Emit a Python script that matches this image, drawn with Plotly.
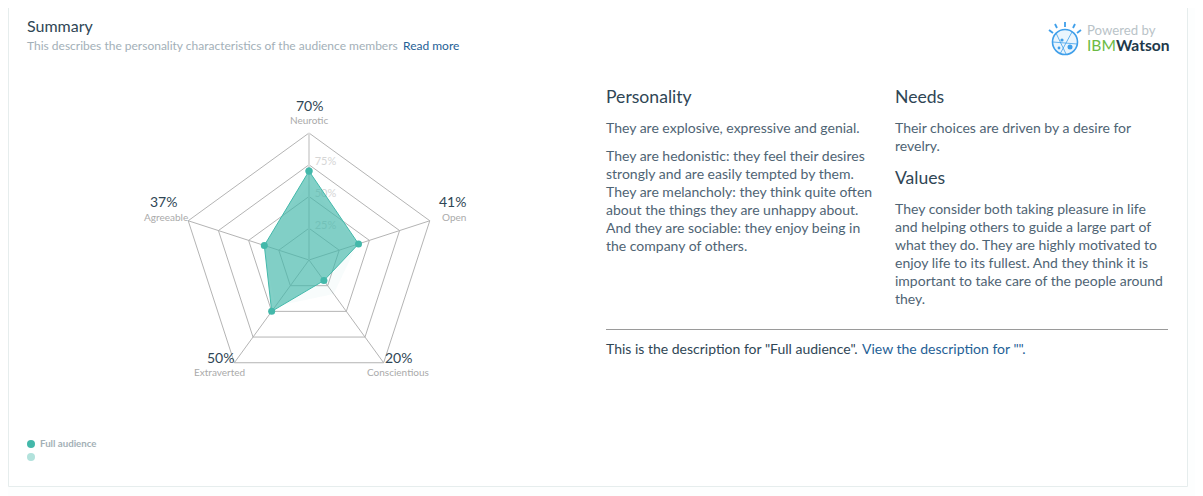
import plotly.graph_objects as go

W, H = 1203, 496
OFF = 8  # page margin around the figure
FW, FH = W - OFF, H - OFF
traits = ["Neurotic", "Open", "Conscientious", "Extraverted", "Agreeable"]
full_audience = [70, 41, 20, 50, 37]
other_audience = [60, 40, 33, 45, 38]
radial_ticks = [0, 25, 50, 75]
radial_labels = ["0", "25%", "50%", "75%"]
percent_labels = ["70%", "41%", "20%", "50%", "37%"]

FONT = "Lato, 'Open Sans', sans-serif"
DARK = "#2f4655"
BODY = "#4f6474"
BLUE = "#1f6196"
TEAL = "#43b8aa"

def X(p): return (p - OFF) / FW
def Y(p): return 1 - (p - OFF) / FH

annotations = []
def text(x, y, s, size, color, anchor="left", dy=-1):
    annotations.append(dict(x=X(x), y=Y(y + dy), xref="paper", yref="paper", text=s, showarrow=False,
                            xanchor=anchor, yanchor="middle", align=anchor,
                            font=dict(family=FONT, size=size, color=color),
                            borderpad=0, borderwidth=0))

# header
text(27, 27, "Summary", 16, DARK)
text(27, 46, "This describes the personality characteristics of the audience members", 12, "#a3b0b8", dy=-0.4)
text(403, 46, "Read more", 12, BLUE, dy=-0.4)

# chart labels
text(309, 107, percent_labels[0], 14, DARK, "center")
text(309, 121, traits[0], 10, "#aaaaaa", "center")
text(466, 203, percent_labels[1], 14, DARK, "right")
text(465.5, 218, traits[1], 10, "#aaaaaa", "right")
text(385, 358, percent_labels[2], 14, DARK)
text(429, 373, traits[2], 10, "#aaaaaa", "right")
text(234, 358, percent_labels[3], 14, DARK, "right")
text(245, 373, traits[3], 10, "#aaaaaa", "right")
text(177, 203, percent_labels[4], 14, DARK, "right")
text(188, 218, traits[4], 10, "#aaaaaa", "right")

# right-hand columns
text(606, 97, "Personality", 17.6, DARK, dy=-0.4)
text(895, 97, "Needs", 17.6, DARK, dy=-0.4)
text(895, 178, "Values", 17.6, DARK, dy=-0.4)
for y, s in [(128, "They are explosive, expressive and genial."),
             (156, "They are hedonistic: they feel their desires"),
             (174, "strongly and are easily tempted by them."),
             (192, "They are melancholy: they think quite often"),
             (210, "about the things they are unhappy about."),
             (228, "And they are sociable: they enjoy being in"),
             (246, "the company of others.")]:
    text(606, y, s, 14, BODY, dy=-0.4)
for y, s in [(128, "Their choices are driven by a desire for"),
             (146, "revelry."),
             (209, "They consider both taking pleasure in life"),
             (227, "and helping others to guide a large part of"),
             (245, "what they do. They are highly motivated to"),
             (263, "enjoy life to its fullest. And they think it is"),
             (281, "important to take care of the people around"),
             (299, "they.")]:
    text(895, y, s, 14, BODY, dy=-0.4)
text(606, 349, 'This is the description for "Full audience".', 14, DARK, dy=-0.4)
text(862, 349, 'View the description for "".', 14, BLUE, dy=-0.4)

# legend
text(40, 444, "<b>Full audience</b>", 9.7, "#a3b0b6")

# logo text
text(1087, 31, "Powered by", 13.2, "#b9c3c8")
text(1087, 46, "<span style='color:#6cbb45'>IBM</span><b>Watson</b>", 15.6, "#22394a")

def rect(x0, y0, x1, y1, **kw):
    return dict(type="rect", xref="paper", yref="paper", x0=X(x0), x1=X(x1), y0=Y(y1), y1=Y(y0), **kw)
def circ(cx, cy, r, **kw):
    return dict(type="circle", xref="paper", yref="paper", x0=X(cx - r), x1=X(cx + r), y0=Y(cy + r), y1=Y(cy - r), **kw)
def seg(x0, y0, x1, y1, color, width):
    return dict(type="line", xref="paper", yref="paper", x0=X(x0), x1=X(x1), y0=Y(y0), y1=Y(y1),
                line=dict(color=color, width=width))

LB = "#3f9fea"
shapes = [
    rect(8.5, 6.5, 1187.5, 486.5, fillcolor="white", line=dict(color="#e6eded", width=1), layer="below"),
    seg(606, 329.5, 1168, 329.5, "#9a9a9a", 1),
    circ(31, 444, 4, fillcolor=TEAL, line_width=0),
    circ(31, 457, 4, fillcolor="#b2e2dc", line_width=0),
    # logo globe
    circ(1065, 42, 12.5, fillcolor="#eaf5fd", line=dict(color=LB, width=1.6)),
    seg(1065, 22, 1065, 27, LB, 1.8),
    seg(1055, 24, 1057, 28, LB, 1.8),
    seg(1075, 24, 1073, 28, LB, 1.8),
    seg(1049, 30, 1053, 33, LB, 1.8),
    seg(1081, 30, 1077, 33, LB, 1.8),
    seg(1056, 33, 1066, 54, LB, 0.8),
    seg(1072, 32, 1060, 54, LB, 0.8),
    seg(1053, 42, 1077, 44, LB, 0.8),
    circ(1070, 47, 2.5, fillcolor=LB, line_width=0),
    circ(1062, 40, 1.6, fillcolor=LB, line_width=0),
    circ(1059, 48, 1.4, fillcolor=LB, line_width=0),
]

closed = lambda a: list(a) + [a[0]]
fig = go.Figure()
fig.add_trace(go.Scatterpolar(
    r=[max(t - 2.4, 0) for t in radial_ticks], theta=[traits[0]] * 4, mode="text",
    text=["\u00a0\u00a0" + s for s in radial_labels],
    textposition="top right", textfont=dict(family=FONT, size=11, color="#d6d6d6"),
    showlegend=False, hoverinfo="skip"))
fig.add_trace(go.Scatterpolar(
    r=closed(other_audience), theta=closed(traits), mode="lines", fill="toself",
    fillcolor="rgba(67,184,170,0.04)", line=dict(width=0), name="", showlegend=False))
fig.add_trace(go.Scatterpolar(
    r=closed(full_audience), theta=closed(traits), mode="lines+markers", fill="toself",
    fillcolor="rgba(67,184,170,0.66)", line=dict(color=TEAL, width=1),
    marker=dict(color=TEAL, size=7), name="Full audience", showlegend=False))

fig.update_layout(
    width=FW, height=FH, margin=dict(l=0, r=0, t=0, b=0), autosize=False,
    paper_bgcolor="#fdfefe", plot_bgcolor="white", showlegend=False,
    font=dict(family=FONT),
    annotations=annotations, shapes=shapes,
    polar=dict(
        domain=dict(x=[X(309 - 127), X(309 + 127)], y=[Y(260 + 127), Y(260 - 127)]),
        bgcolor="rgba(0,0,0,0)", gridshape="linear",
        radialaxis=dict(range=[0, 100], angle=90, tickvals=[25, 50, 75, 100], showticklabels=False, ticks="",
                        gridcolor="#b4b4b4", gridwidth=1, showline=True, linecolor="#dcdcdc", linewidth=2,
                        layer="below traces"),
        angularaxis=dict(type="category", categoryorder="array", categoryarray=traits,
                         rotation=90, direction="clockwise", showticklabels=False, ticks="",
                         gridcolor="#b4b4b4", gridwidth=1, showline=True, linecolor="#b4b4b4", linewidth=1,
                         layer="below traces"),
    ),
)
fig.write_html("out.html")
